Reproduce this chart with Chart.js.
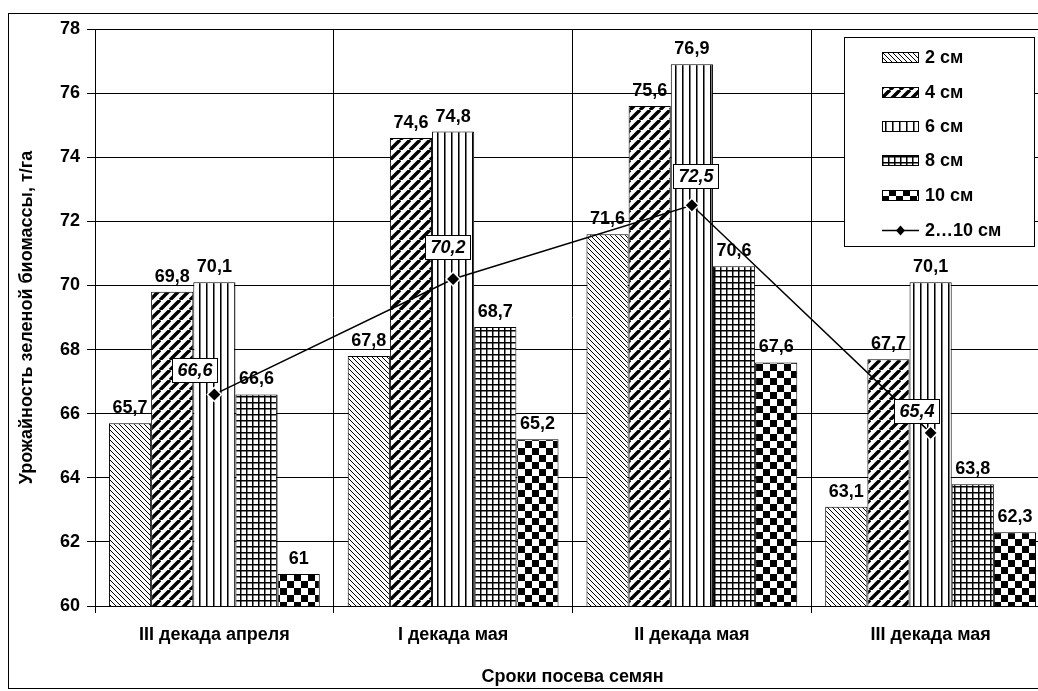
<!DOCTYPE html>
<html>
<head>
<meta charset="utf-8">
<script src="https://cdn.jsdelivr.net/npm/chart.js@4.4.1/dist/chart.umd.min.js"></script>
<style>
  html, body { margin: 0; padding: 0; background: #fff; overflow: hidden; width: 1038px; height: 691px; }
  #wrap { position: relative; width: 1060px; height: 691px; }
  canvas { display: block; }
</style>
</head>
<body>
<div id="wrap"><canvas id="c" width="1060" height="691"></canvas></div>
<script>
// Sowing dates (categories)
const categories = ['III декада апреля', 'I декада мая', 'II декада мая', 'III декада мая'];

// Green biomass yield, t/ha, by sowing depth
const depth2cm  = [65.7, 67.8, 71.6, 63.1];
const depth4cm  = [69.8, 74.6, 75.6, 67.7];
const depth6cm  = [70.1, 74.8, 76.9, 70.1];
const depth8cm  = [66.6, 68.7, 70.6, 63.8];
const depth10cm = [61.0, 65.2, 67.6, 62.3];
const depthMean = [66.6, 70.2, 72.5, 65.4];

const seriesNames = ['2 см', '4 см', '6 см', '8 см', '10 см', '2…10 см'];

const yMin = 60, yMax = 78, yStep = 2;
const yTitle = 'Урожайность зеленой биомассы, т/га';
const xTitle = 'Сроки посева семян';

const FONT = 'Liberation Sans, Arial, Helvetica, sans-serif';
Chart.defaults.font.family = FONT;
Chart.defaults.color = '#000';

const canvas = document.getElementById('c');
const ctx = canvas.getContext('2d');

// Monochrome hatch fills for the bars
function hatch(kind) {
  const t = document.createElement('canvas');
  const g = t.getContext('2d');
  let s;
  if (kind === 'fineBack') {
    s = 5; t.width = t.height = s;
    g.fillStyle = '#fff'; g.fillRect(0, 0, s, s);
    g.strokeStyle = '#000'; g.lineWidth = 1;
    g.beginPath();
    for (const k of [-s, 0, s]) { g.moveTo(k, 0); g.lineTo(k + s, s); }
    g.stroke();
  } else if (kind === 'wideFwd') {
    s = 10; t.width = t.height = s;
    g.fillStyle = '#fff'; g.fillRect(0, 0, s, s);
    g.strokeStyle = '#000'; g.lineWidth = 3.5;
    g.beginPath();
    for (const k of [-s, 0, s]) { g.moveTo(k, s); g.lineTo(k + s, 0); }
    g.stroke();
  } else if (kind === 'vertical') {
    s = 7; t.width = t.height = s;
    g.fillStyle = '#fff'; g.fillRect(0, 0, s, s);
    g.fillStyle = '#000'; g.fillRect(3, 0, 1, s);
    g.fillStyle = '#777'; g.fillRect(4, 0, 1, s);
  } else if (kind === 'grid') {
    s = 6; t.width = t.height = s;
    g.fillStyle = '#fff'; g.fillRect(0, 0, s, s);
    g.fillStyle = '#000'; g.fillRect(0, 0, s, 1.5); g.fillRect(0, 0, 1.5, s);
  } else {
    s = 14; t.width = t.height = s;
    g.fillStyle = '#fff'; g.fillRect(0, 0, s, s);
    g.fillStyle = '#000'; g.fillRect(0, 0, 7, 7); g.fillRect(7, 7, 7, 7);
  }
  return ctx.createPattern(t, 'repeat');
}

const fills = [hatch('fineBack'), hatch('wideFwd'), hatch('vertical'), hatch('grid'), hatch('checker')];
const barSeries = [depth2cm, depth4cm, depth6cm, depth8cm, depth10cm];

const barDatasets = barSeries.map((vals, i) => ({
  type: 'bar',
  label: seriesNames[i],
  data: vals,
  backgroundColor: fills[i],
  borderColor: '#000',
  borderWidth: 1,
  barPercentage: 1.0,
  categoryPercentage: 0.883,
  order: 1
}));

// Mean over all depths, drawn on top of the bars
const lineDataset = {
  type: 'line',
  label: seriesNames[5],
  data: depthMean,
  borderColor: '#000',
  borderWidth: 1.5,
  tension: 0,
  fill: false,
  pointStyle: 'rectRot',
  pointRadius: 7,
  pointBackgroundColor: '#000',
  pointBorderColor: '#fff',
  pointBorderWidth: 1.5,
  order: 0
};

const fmt = v => String(v).replace('.', ',');

// White page with a thin outer frame
const framePlugin = {
  id: 'frame',
  beforeDraw(chart) {
    const c = chart.ctx;
    c.save();
    c.fillStyle = '#fff';
    c.fillRect(0, 0, chart.width, chart.height);
    c.strokeStyle = '#000';
    c.lineWidth = 1;
    c.strokeRect(8.5, 13.5, 1070, 675);
    c.restore();
  }
};

// Value labels above every bar
const barLabelPlugin = {
  id: 'barLabels',
  afterDatasetsDraw(chart) {
    const c = chart.ctx;
    c.save();
    c.font = 'bold 18px ' + FONT;
    c.fillStyle = '#000';
    c.textAlign = 'center';
    c.textBaseline = 'alphabetic';
    chart.data.datasets.forEach((ds, di) => {
      if (ds.type !== 'bar') return;
      chart.getDatasetMeta(di).data.forEach((bar, i) => {
        c.fillText(fmt(ds.data[i]), bar.x, bar.y - 10);
      });
    });
    c.restore();
  }
};

// Boxed italic labels for the mean line
const lineLabelOffsets = [[-20, -24], [-6, -32], [4, -29], [-14, -22]];
const lineLabelPlugin = {
  id: 'lineLabels',
  afterDraw(chart) {
    const c = chart.ctx;
    const di = chart.data.datasets.findIndex(d => d.type === 'line');
    const ds = chart.data.datasets[di];
    c.save();
    c.font = 'italic bold 18px ' + FONT;
    c.textAlign = 'center';
    c.textBaseline = 'middle';
    chart.getDatasetMeta(di).data.forEach((pt, i) => {
      const txt = fmt(ds.data[i]);
      const w = Math.round(c.measureText(txt).width + 10);
      const h = 24;
      const cx = pt.x + lineLabelOffsets[i][0];
      const cy = pt.y + lineLabelOffsets[i][1];
      const x0 = Math.round(cx - w / 2) + 0.5, y0 = Math.round(cy - h / 2) + 0.5;
      c.fillStyle = '#fff';
      c.fillRect(x0, y0, w, h);
      c.strokeStyle = '#000';
      c.lineWidth = 1;
      c.strokeRect(x0, y0, w, h);
      c.fillStyle = '#000';
      c.fillText(txt, x0 + w / 2, y0 + h / 2 + 1);
    });
    c.restore();
  }
};

// Legend box in the upper right
const legendPlugin = {
  id: 'boxLegend',
  afterDraw(chart) {
    const c = chart.ctx;
    c.save();
    c.fillStyle = '#fff';
    c.fillRect(844.5, 37.5, 190, 209);
    c.strokeStyle = '#000';
    c.lineWidth = 1;
    c.strokeRect(844.5, 37.5, 190, 209);
    const rows = [57, 92, 126, 160, 195, 230];
    const sx = 882, sw = 37;
    c.font = 'bold 18px ' + FONT;
    c.textAlign = 'left';
    c.textBaseline = 'middle';
    chart.data.datasets.forEach((ds, i) => {
      const y = rows[i];
      if (ds.type === 'bar') {
        c.fillStyle = ds.backgroundColor;
        c.fillRect(sx, y - 5, sw, 10);
        c.strokeStyle = '#000';
        c.lineWidth = 1;
        c.strokeRect(sx + 0.5, y - 4.5, sw - 1, 10);
      } else {
        c.strokeStyle = '#000';
        c.lineWidth = 1.5;
        c.beginPath();
        c.moveTo(sx, y + 0.5); c.lineTo(sx + sw, y + 0.5);
        c.stroke();
        const mx = sx + sw / 2;
        c.fillStyle = '#000';
        c.beginPath();
        c.moveTo(mx, y - 4.5); c.lineTo(mx + 4.5, y + 0.5); c.lineTo(mx, y + 5.5); c.lineTo(mx - 4.5, y + 0.5);
        c.closePath();
        c.fill();
      }
      c.fillStyle = '#000';
      c.fillText(ds.label, 925, y + 1);
    });
    c.restore();
  }
};

new Chart(ctx, {
  data: {
    labels: categories,
    datasets: [...barDatasets, lineDataset]
  },
  options: {
    responsive: false,
    devicePixelRatio: 1,
    animation: false,
    layout: { padding: { left: 0, top: 29, right: 10, bottom: 0 } },
    plugins: {
      legend: { display: false },
      tooltip: { enabled: false }
    },
    scales: {
      x: {
        offset: true,
        grid: { color: '#000', lineWidth: 1, offset: true, tickLength: 7, drawOnChartArea: true },
        border: { color: '#000', width: 1 },
        ticks: { font: { size: 18, weight: 'bold' }, color: '#000', padding: 11, maxRotation: 0 },
        title: { display: true, text: xTitle, font: { size: 18, weight: 'bold' }, color: '#000', padding: { top: 3, bottom: 3 } },
        afterFit(scale) { scale.height = 85; }
      },
      y: {
        min: yMin,
        max: yMax,
        grid: { color: '#000', lineWidth: 1, tickLength: 8 },
        border: { color: '#000', width: 1 },
        ticks: { stepSize: yStep, font: { size: 18, weight: 'bold' }, color: '#000', padding: 7 },
        title: { display: true, text: yTitle, font: { size: 18, weight: 'bold' }, color: '#000', padding: { top: 16, bottom: 0 } },
        afterFit(scale) { scale.width = 95; }
      }
    }
  },
  plugins: [framePlugin, barLabelPlugin, lineLabelPlugin, legendPlugin]
});
</script>
</body>
</html>
